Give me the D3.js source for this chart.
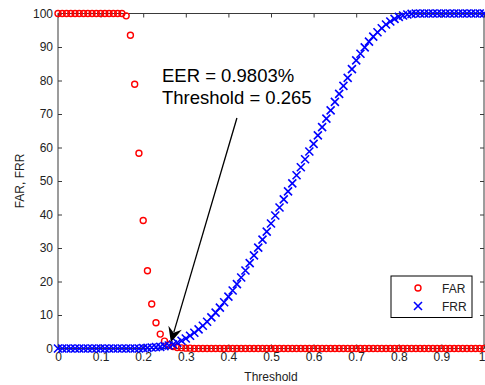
<!DOCTYPE html>
<html>
<head>
<meta charset="utf-8">
<script src="https://cdn.jsdelivr.net/npm/d3@7"></script>
<style>
  html, body { margin: 0; padding: 0; background: #fff; }
  svg { display: block; font-family: "Liberation Sans", Arial, sans-serif; }
</style>
</head>
<body>
<svg id="chart" width="485" height="385"></svg>
<script>
// Thresholds (x values shared by both series)
const thresholds = [
  0.00, 0.01, 0.02, 0.03, 0.04, 0.05, 0.06, 0.07, 0.08, 0.09,
  0.10, 0.11, 0.12, 0.13, 0.14, 0.15, 0.16, 0.17, 0.18, 0.19,
  0.20, 0.21, 0.22, 0.23, 0.24, 0.25, 0.26, 0.27, 0.28, 0.29,
  0.30, 0.31, 0.32, 0.33, 0.34, 0.35, 0.36, 0.37, 0.38, 0.39,
  0.40, 0.41, 0.42, 0.43, 0.44, 0.45, 0.46, 0.47, 0.48, 0.49,
  0.50, 0.51, 0.52, 0.53, 0.54, 0.55, 0.56, 0.57, 0.58, 0.59,
  0.60, 0.61, 0.62, 0.63, 0.64, 0.65, 0.66, 0.67, 0.68, 0.69,
  0.70, 0.71, 0.72, 0.73, 0.74, 0.75, 0.76, 0.77, 0.78, 0.79,
  0.80, 0.81, 0.82, 0.83, 0.84, 0.85, 0.86, 0.87, 0.88, 0.89,
  0.90, 0.91, 0.92, 0.93, 0.94, 0.95, 0.96, 0.97, 0.98, 0.99,
  1.00
];

// False acceptance rate (%)
const farValues = [
  100, 100, 100, 100, 100, 100, 100, 100, 100, 100,
  100, 100, 100, 100, 100, 100, 99.3, 93.5, 78.9, 58.3,
  38.2, 23.2, 13.3, 7.7, 4.3, 2.2, 1.1, 0.6, 0.3, 0.2,
  0.1, 0.1, 0, 0, 0, 0, 0, 0, 0, 0,
  0, 0, 0, 0, 0, 0, 0, 0, 0, 0,
  0, 0, 0, 0, 0, 0, 0, 0, 0, 0,
  0, 0, 0, 0, 0, 0, 0, 0, 0, 0,
  0, 0, 0, 0, 0, 0, 0, 0, 0, 0,
  0, 0, 0, 0, 0, 0, 0, 0, 0, 0,
  0, 0, 0, 0, 0, 0, 0, 0, 0, 0,
  0
];

// False rejection rate (%)
const frrValues = [
  0, 0, 0, 0, 0, 0, 0, 0, 0, 0,
  0, 0, 0, 0, 0, 0, 0, 0, 0, 0,
  0.1, 0.2, 0.3, 0.4, 0.5, 0.7, 0.9, 1.2, 1.7, 2.3,
  3.0, 3.8, 4.7, 5.7, 6.8, 8.0, 9.3, 10.7, 12.2, 13.8,
  15.5, 17.3, 19.2, 21.2, 23.3, 25.5, 27.8, 30.1, 32.5, 34.9,
  37.3, 39.7, 42.1, 44.5, 46.9, 49.3, 51.7, 54.1, 56.5, 58.8,
  61.1, 63.6, 66.1, 68.6, 71.1, 73.6, 76.0, 78.4, 80.8, 83.4,
  86.0, 88.0, 89.9, 91.6, 93.1, 94.4, 95.6, 96.7, 97.6, 98.4,
  99.0, 99.4, 99.7, 99.9, 100, 100, 100, 100, 100, 100,
  100, 100, 100, 100, 100, 100, 100, 100, 100, 100,
  100
];

const xTicks = [0, 0.1, 0.2, 0.3, 0.4, 0.5, 0.6, 0.7, 0.8, 0.9, 1];
const yTicks = [0, 10, 20, 30, 40, 50, 60, 70, 80, 90, 100];

const eer = { threshold: 0.265, rate: 0.9803 };
const annotationLines = ['EER = 0.9803%', 'Threshold = 0.265'];

const svg = d3.select('#chart');
const width = +svg.attr('width');
const height = +svg.attr('height');

// Plot box (MATLAB style, cropped on the right)
const margin = { top: 13.5, right: 1, bottom: 36.5, left: 58 };

const x = d3.scaleLinear()
  .domain([0, 1])
  .range([margin.left, width - margin.right]);

const y = d3.scaleLinear()
  .domain([0, 100])
  .range([height - margin.bottom, margin.top]);

const axisColor = '#3a3a3a';
const textColor = '#222';

// Box
svg.append('rect')
  .attr('x', x(0))
  .attr('y', y(100))
  .attr('width', x(1) - x(0))
  .attr('height', y(0) - y(100))
  .attr('fill', '#fff')
  .attr('stroke', axisColor)
  .attr('stroke-width', 1);

// Axes with inward ticks
const styleAxis = g => {
  g.select('.domain').remove();
  g.selectAll('.tick line').attr('stroke', axisColor);
  g.selectAll('.tick text')
    .attr('fill', textColor)
    .attr('font-size', 12)
    .attr('font-family', '"Liberation Sans", Arial, sans-serif');
};

svg.append('g')
  .attr('transform', `translate(0,${y(0)})`)
  .call(d3.axisBottom(x).tickValues(xTicks).tickFormat(d3.format('~g'))
    .tickSizeInner(-4).tickSizeOuter(0).tickPadding(4))
  .call(styleAxis)
  // last label sits at the window edge: keep it fully visible
  .call(g => g.selectAll('.tick text').filter(d => d === 1).attr('text-anchor', 'end').attr('dx', 1));

svg.append('g')
  .attr('transform', `translate(0,${y(100)})`)
  .call(d3.axisTop(x).tickValues(xTicks).tickFormat('')
    .tickSizeInner(-4).tickSizeOuter(0))
  .call(styleAxis);

svg.append('g')
  .attr('transform', `translate(${x(0)},0)`)
  .call(d3.axisLeft(y).tickValues(yTicks)
    .tickSizeInner(-4).tickSizeOuter(0).tickPadding(5))
  .call(styleAxis);

svg.append('g')
  .attr('transform', `translate(${x(1)},0)`)
  .call(d3.axisRight(y).tickValues(yTicks).tickFormat('')
    .tickSizeInner(-4).tickSizeOuter(0))
  .call(styleAxis);

// Axis labels
svg.append('text')
  .attr('x', (x(0) + x(1)) / 2)
  .attr('y', height - 4)
  .attr('text-anchor', 'middle')
  .attr('font-size', 12)
  .attr('fill', textColor)
  .text('Threshold');

svg.append('text')
  .attr('transform', `translate(24,${(y(0) + y(100)) / 2}) rotate(-90)`)
  .attr('text-anchor', 'middle')
  .attr('font-size', 12)
  .attr('fill', textColor)
  .text('FAR, FRR');

const points = thresholds.map((t, i) => ({ t, far: farValues[i], frr: frrValues[i] }));

// FAR markers (red circles)
svg.append('g')
  .selectAll('circle')
  .data(points)
  .join('circle')
  .attr('cx', d => x(d.t))
  .attr('cy', d => y(d.far))
  .attr('r', 3)
  .attr('fill', 'none')
  .attr('stroke', '#ff0000')
  .attr('stroke-width', 1.4);

// FRR markers (blue crosses)
const cross = s => `M${-s},${-s}L${s},${s}M${-s},${s}L${s},${-s}`;
svg.append('g')
  .selectAll('path')
  .data(points)
  .join('path')
  .attr('transform', d => `translate(${x(d.t)},${y(d.frr)})`)
  .attr('d', cross(4))
  .attr('fill', 'none')
  .attr('stroke', '#0000ff')
  .attr('stroke-width', 1.6);

// Annotation arrow pointing at the EER
const tail = { t: 0.42, v: 68.8 };
const tx0 = x(tail.t), ty0 = y(tail.v);
const tx1 = x(eer.threshold), ty1 = y(eer.rate) - 3;
const ang = Math.atan2(ty1 - ty0, tx1 - tx0);
const headLen = 15, headW = 7;
svg.append('line')
  .attr('x1', tx0).attr('y1', ty0)
  .attr('x2', tx1 - Math.cos(ang) * headLen * 0.7)
  .attr('y2', ty1 - Math.sin(ang) * headLen * 0.7)
  .attr('stroke', '#000')
  .attr('stroke-width', 1.3);

const bx = tx1 - Math.cos(ang) * headLen, by = ty1 - Math.sin(ang) * headLen;
const nx = -Math.sin(ang), ny = Math.cos(ang);
const notchX = tx1 - Math.cos(ang) * headLen * 0.65, notchY = ty1 - Math.sin(ang) * headLen * 0.65;
svg.append('path')
  .attr('d', `M${tx1},${ty1}L${bx + nx * headW},${by + ny * headW}L${notchX},${notchY}L${bx - nx * headW},${by - ny * headW}Z`)
  .attr('fill', '#000');

// Annotation text
svg.append('text')
  .attr('x', 162)
  .attr('y', 82)
  .attr('font-size', 18.5)
  .attr('fill', '#000')
  .selectAll('tspan')
  .data(annotationLines)
  .join('tspan')
  .attr('x', 162)
  .attr('dy', (d, i) => i === 0 ? 0 : 21.5)
  .text(d => d);

// Legend
const legend = svg.append('g').attr('transform', 'translate(391,276)');
legend.append('rect')
  .attr('width', 81)
  .attr('height', 41.5)
  .attr('fill', '#fff')
  .attr('stroke', '#000')
  .attr('stroke-width', 1);

legend.append('circle')
  .attr('cx', 27).attr('cy', 12)
  .attr('r', 3)
  .attr('fill', 'none')
  .attr('stroke', '#ff0000')
  .attr('stroke-width', 1.4);

legend.append('path')
  .attr('transform', 'translate(27,30)')
  .attr('d', cross(4))
  .attr('fill', 'none')
  .attr('stroke', '#0000ff')
  .attr('stroke-width', 1.6);

legend.selectAll('text.lbl')
  .data(['FAR', 'FRR'])
  .join('text')
  .attr('class', 'lbl')
  .attr('x', 51)
  .attr('y', (d, i) => 16.5 + i * 18)
  .attr('font-size', 12)
  .attr('fill', textColor)
  .text(d => d);
</script>
</body>
</html>
